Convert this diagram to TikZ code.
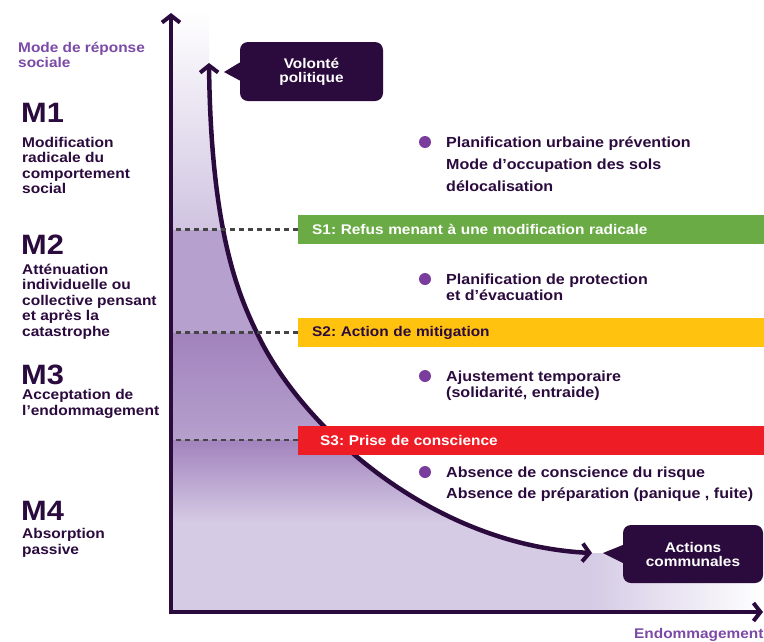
\documentclass[tikz,border=0pt]{standalone}
\usepackage{fontspec}
\setmainfont{Liberation Sans}[FakeStretch=1.1]
\usetikzlibrary{arrows.meta}
\definecolor{dk}{HTML}{2B0A3D}
\definecolor{lbl}{HTML}{7B4AA6}
\definecolor{bul}{HTML}{7A3D9E}
\definecolor{sgreen}{HTML}{6AAB45}
\definecolor{syellow}{HTML}{FFC20F}
\definecolor{sred}{HTML}{EE1C25}
\definecolor{lav}{HTML}{D5CBE5}
\definecolor{lavtop}{HTML}{D0C4E1}
\definecolor{lavmid}{HTML}{B6A1CE}
\definecolor{lavdark}{HTML}{A283BD}
\definecolor{lavb}{HTML}{B5A0CD}
\definecolor{dashgrey}{HTML}{444444}
\frenchspacing
\begin{document}
\begin{tikzpicture}[x=1pt,y=-1pt,
  lefttxt/.style={font=\fontsize{14.1}{15.5}\selectfont\bfseries, text=dk, inner sep=0pt, anchor=base west},
  mbig/.style={font=\fontsize{28}{28}\selectfont\bfseries, text=dk, inner sep=0pt, anchor=west},
  axlbl/.style={font=\fontsize{14}{15.5}\selectfont\bfseries, text=lbl, inner sep=0pt, anchor=base west},
  bultxt/.style={font=\fontsize{14.6}{16}\selectfont\bfseries, text=dk, inner sep=0pt, anchor=base west},
  bulpt/.style={circle, fill=bul, inner sep=0pt, minimum size=12pt},
  sbar/.style={anchor=west, minimum height=29pt, text width=438pt, inner xsep=14pt, inner ysep=0pt,
     font=\fontsize{14}{15}\selectfont\bfseries, align=left},
  callout/.style={fill=dk, rounded corners=8pt, text=white, align=center, inner sep=0pt,
     font=\fontsize{14}{14}\selectfont\bfseries},
  axis/.style={draw=dk, line width=4pt, -{Straight Barb[length=7pt,width=18pt,line width=4pt]}},
  curve/.style={draw=dk, line width=4.5pt, {Straight Barb[length=7pt,width=18pt,line width=4pt]}-{Straight Barb[length=7pt,width=18pt,line width=4pt]}},
  dashline/.style={draw=dashgrey, line width=2.2pt, dash pattern=on 5pt off 4pt}
]
\useasboundingbox (0,0) rectangle (764,641);
\fill[white] (0,0) rectangle (764,641);

% shaded area under the curve
\begin{scope}
  \clip (171,10) -- (209,10) -- (209,63) .. controls (211,230) and (238,294) .. (257,333)
        .. controls (300,425) and (430,545) .. (592,553)
        -- (764,553) -- (764,612) -- (171,612) -- cycle;
  \shade[top color=white, bottom color=lavtop] (160,10) rectangle (764,230);
  \fill[lavmid] (160,230) rectangle (764,333);
  \shade[top color=lavdark, bottom color=lavb] (160,333) rectangle (764,440);
  \shade[top color=lavdark, bottom color=lav] (160,440) rectangle (764,522);
  \fill[lav] (160,522) rectangle (764,615);
  \shade[left color=lav, right color=white] (590,440) rectangle (764,615);
\end{scope}

% axes
\coordinate (origin) at (171,612);
\coordinate (ytop) at (171,13);
\coordinate (xend) at (763,612);
\draw[axis] ([yshift=-2pt]origin) -- (ytop);
\draw[axis] ([xshift=-2pt]origin) -- (xend);

% axis labels
\node[axlbl] (yl1) at (18,52.5) {Mode de réponse};
\node[axlbl] (yl2) at (18,67.5) {sociale};
\node[axlbl] (xl) at (634,638) {Endommagement};

% left modes
\node[mbig] (m1) at (21,113) {M1};
\node[lefttxt] (m1a) at (22,147) {Modification};
\node[lefttxt] (m1b) at (22,162.5) {radicale du};
\node[lefttxt] (m1c) at (22,178) {comportement};
\node[lefttxt] (m1d) at (22,193.5) {social};

\node[mbig] (m2) at (21,244.5) {M2};
\node[lefttxt] (m2a) at (22,274) {Atténuation};
\node[lefttxt] (m2b) at (22,289.5) {individuelle ou};
\node[lefttxt] (m2c) at (22,305) {collective pensant};
\node[lefttxt] (m2d) at (22,320.5) {et après la};
\node[lefttxt] (m2e) at (22,336) {catastrophe};

\node[mbig] (m3) at (21,375) {M3};
\node[lefttxt] (m3a) at (22,399.5) {Acceptation de};
\node[lefttxt] (m3b) at (22,415) {l'endommagement};

\node[mbig] (m4) at (21,511) {M4};
\node[lefttxt] (m4a) at (22,538.5) {Absorption};
\node[lefttxt] (m4b) at (22,554) {passive};

% curve (drawn below the bars)
\coordinate (ctop) at (209,63);
\coordinate (cmid) at (257,333);
\coordinate (cend) at (592,553);
\draw[curve] (ctop) .. controls (211,230) and (238,294) .. (cmid)
        .. controls (300,425) and (430,545) .. (cend);

% strategy bars
\node[sbar, fill=sgreen, text=white] (s1) at (298,229.5) {S1: Refus menant à une modification radicale};
\node[sbar, fill=syellow, text=dk] (s2) at (298,332.5) {S2: Action de mitigation};
\node[sbar, fill=sred, text=white, inner xsep=22pt, text width=422pt] (s3) at (298,440) {S3: Prise de conscience};

\draw[dashline] (176,229.5) -- (s1.west);
\draw[dashline] (176,332.5) -- (s2.west);
\draw[dashline] (176,440) -- (s3.west);

% bullets
\node[bulpt] (b1) at (425,142) {};
\node[bultxt] (b1a) at (446,147.5) {Planification urbaine prévention};
\node[bultxt] (b1b) at (446,169.5) {Mode d'occupation des sols};
\node[bultxt] (b1c) at (446,191.5) {délocalisation};

\node[bulpt] (b2) at (425,279) {};
\node[bultxt] (b2a) at (446,284.5) {Planification de protection};
\node[bultxt] (b2b) at (446,300) {et d'évacuation};

\node[bulpt] (b3) at (425,376) {};
\node[bultxt] (b3a) at (446,381.5) {Ajustement temporaire};
\node[bultxt] (b3b) at (446,397) {(solidarité, entraide)};

\node[bulpt] (b4) at (425,472) {};
\node[bultxt] (b4a) at (446,477.5) {Absence de conscience du risque};
\node[bultxt] (b4b) at (446,498.5) {Absence de préparation (panique , fuite)};

% callouts
\node[callout, minimum width=143pt, minimum height=59pt] (vol) at (311.5,71.5) {Volonté\\politique};
\coordinate (voltip) at (224,72);
\fill[dk] ([yshift=-9pt]vol.west) -- (voltip) -- ([yshift=9pt]vol.west) -- cycle;

\node[callout, minimum width=140pt, minimum height=58pt] (act) at (693,554) {Actions\\communales};
\coordinate (acttip) at (603,553);
\fill[dk] ([yshift=-9pt]act.west) -- (acttip) -- ([yshift=9pt]act.west) -- cycle;
\end{tikzpicture}
\end{document}
